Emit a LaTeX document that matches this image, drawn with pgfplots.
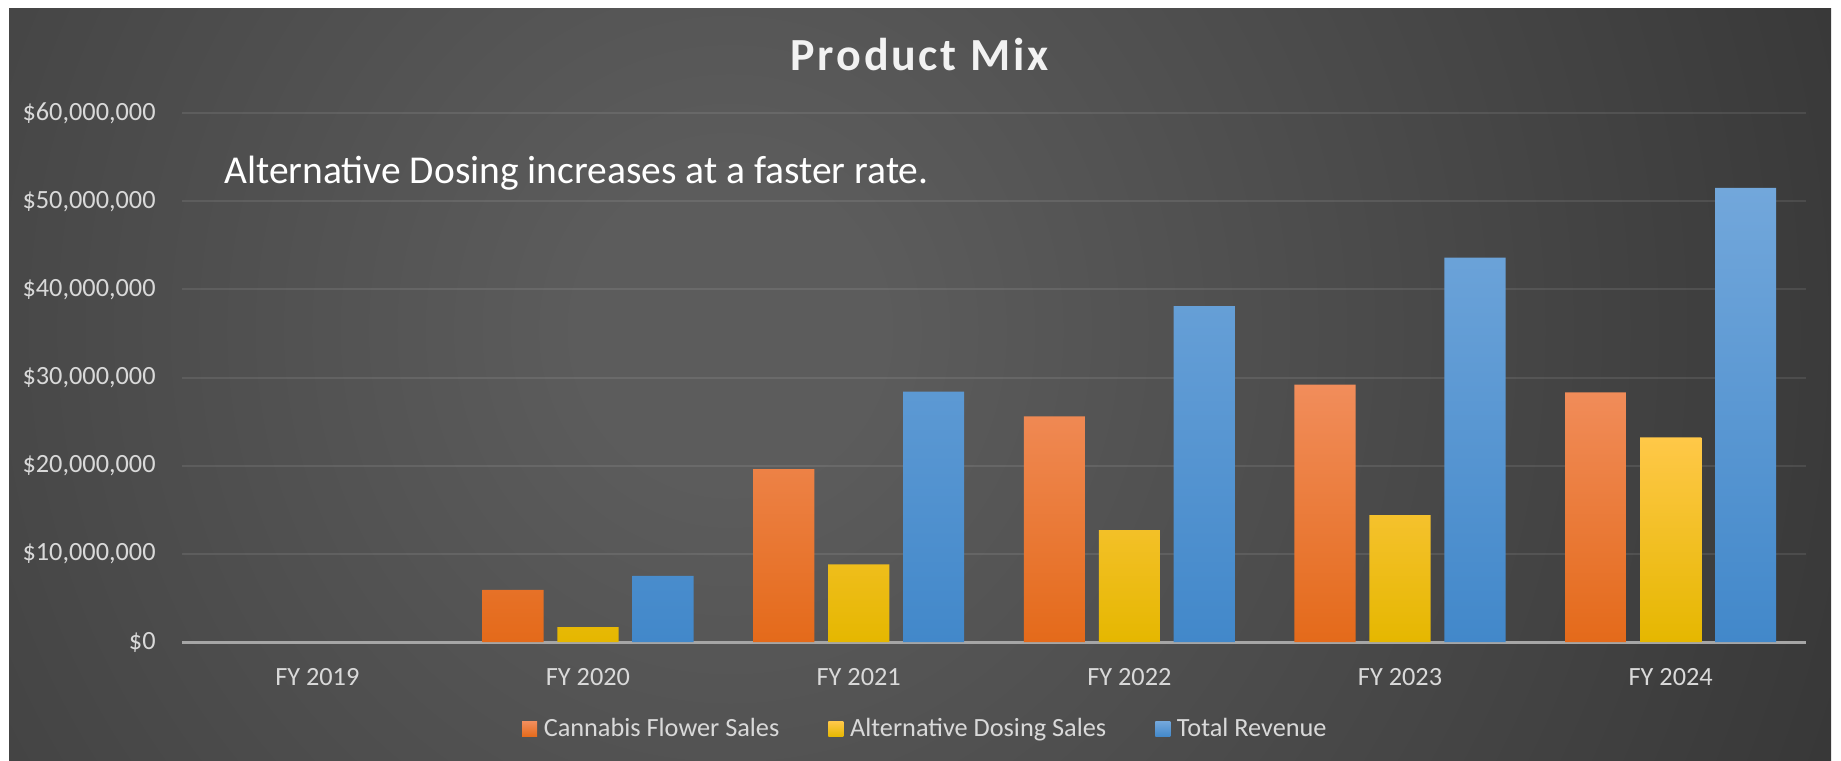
\documentclass[border=0pt]{standalone}
\usepackage{pgfplots}
\pgfplotsset{compat=1.18}
\usepackage{fontspec}
\setmainfont{Carlito}
\definecolor{bgin}{RGB}{92,92,92}
\definecolor{bgout}{RGB}{36,36,36}
\definecolor{orT}{RGB}{241,141,91}
\definecolor{orM}{RGB}{245,127,48}
\definecolor{orB}{RGB}{228,106,26}
\definecolor{yeT}{RGB}{255,200,72}
\definecolor{yeM}{RGB}{255,198,0}
\definecolor{yeB}{RGB}{229,183,0}
\definecolor{blT}{RGB}{114,167,219}
\definecolor{blM}{RGB}{86,151,214}
\definecolor{blB}{RGB}{66,136,202}
\definecolor{tickgray}{RGB}{217,217,217}
\definecolor{axisgray}{RGB}{166,166,166}
\pgfdeclareradialshading{bgshade}{\pgfpoint{0bp}{0bp}}{color(0bp)=(bgin); color(3bp)=(bgin); color(35bp)=(bgout); color(50bp)=(bgout)}
\begin{document}
\begin{tikzpicture}[x=1pt,y=1pt]
\useasboundingbox (0,0) rectangle (920.5,380);
\fill[white] (0,0) rectangle (920.5,380);
\begin{scope}
\clip (4.5,0) rectangle (915.5,375.5);
\fill[bgout] (4.5,0) rectangle (915.5,375.5);
\shade[shading=bgshade] (365,215) ellipse (620 and 640);
\end{scope}
\begin{axis}[
  at={(91pt,59pt)}, anchor=south west, scale only axis,
  width=812pt, height=264.5pt,
  xmin=-0.5, xmax=5.5, ymin=0, ymax=60000000,
  xtick={0,1,2,3,4,5},
  xticklabels={FY 2019,FY 2020,FY 2021,FY 2022,FY 2023,FY 2024},
  ytick={0,10000000,20000000,30000000,40000000,50000000,60000000},
  yticklabels={{\$0},{\$10,000,000},{\$20,000,000},{\$30,000,000},{\$40,000,000},{\$50,000,000},{\$60,000,000}},
  scaled y ticks=false,
  major tick length=0pt,
  axis lines*=left,
  x axis line style={draw=axisgray, line width=1.5pt, -},
  y axis line style={draw=none},
  ymajorgrids,
  major grid style={draw=white, draw opacity=0.09, line width=1pt},
  ticklabel style={font=\fontsize{13.15pt}{15pt}\selectfont, text=tickgray},
  yticklabel style={anchor=east, inner sep=0pt, xshift=-13pt},
  xticklabel style={anchor=north, inner sep=0pt, yshift=-13pt},
  ybar, bar width=0.226,
  legend columns=3,
  legend style={at={(axis description cs:0.2094,-0.165)}, anchor=west,
    draw=none, fill=none, inner sep=0pt, outer sep=0pt,
    font=\fontsize{13.15pt}{15pt}\selectfont, text=tickgray,
    nodes={inner sep=0pt},
    /tikz/every odd column/.append style={column sep=3.35pt},
    /tikz/every even column/.append style={column sep=24.5pt}},
  legend image code/.code={\path[#1,draw=none] (0pt,-3.75pt) rectangle (7.5pt,3.75pt);},
]
\addplot[draw=none, bar shift=-0.277, top color=orT, middle color=orM, bottom color=orB]
  coordinates {(1,5900000) (2,19600000) (3,25600000) (4,29200000) (5,28300000)};
\addplot[draw=none, bar shift=0, top color=yeT, middle color=yeM, bottom color=yeB]
  coordinates {(1,1700000) (2,8800000) (3,12700000) (4,14400000) (5,23200000)};
\addplot[draw=none, bar shift=0.277, top color=blT, middle color=blM, bottom color=blB]
  coordinates {(1,7500000) (2,28400000) (3,38100000) (4,43600000) (5,51500000)};
\legend{Cannabis Flower Sales, Alternative Dosing Sales, Total Revenue}
\end{axis}
\node[anchor=base, inner sep=0pt, text={rgb,255:red,242;green,242;blue,242},
  font=\fontsize{23pt}{26pt}\selectfont\bfseries\addfontfeatures{LetterSpace=6}]
  at (459.75,344.65) {Product Mix};
\node[anchor=base west, inner sep=0pt, text=white, font=\fontsize{19.75pt}{22pt}\selectfont]
  at (112,288.35) {Alternative Dosing increases at a faster rate.};
\end{tikzpicture}
\end{document}
